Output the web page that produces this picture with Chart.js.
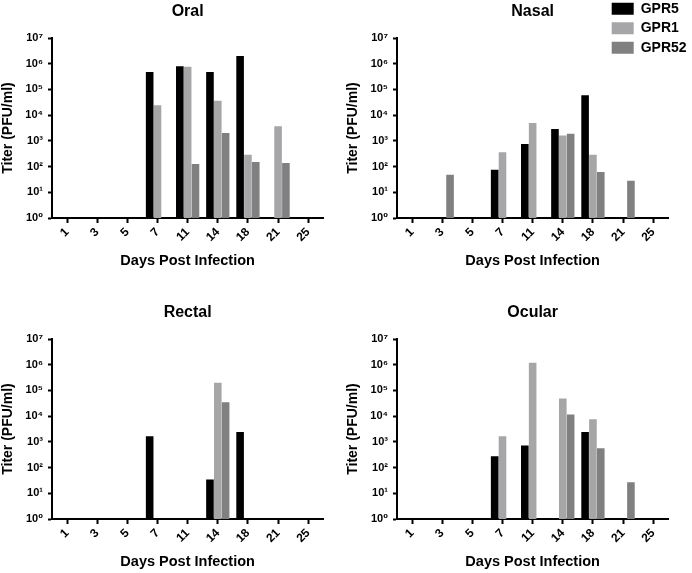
<!DOCTYPE html>
<html><head><meta charset="utf-8">
<script src="https://cdn.jsdelivr.net/npm/chart.js@4.4.0/dist/chart.umd.min.js"></script>
<style>
html,body{margin:0;padding:0;width:692px;height:573px;overflow:hidden;background:#fff}
canvas{position:absolute}
</style></head><body>
<canvas id="c0" width="346" height="301" style="left:0;top:0"></canvas>
<canvas id="c1" width="346" height="301" style="left:345px;top:0"></canvas>
<canvas id="c2" width="346" height="301" style="left:0;top:301px"></canvas>
<canvas id="c3" width="346" height="301" style="left:345px;top:301px"></canvas>
<script>
// ---- data ----
const days = ['1','3','5','7','11','14','18','21','25'];
const seriesNames = ['GPR5','GPR1','GPR52'];
const seriesColors = ['#000000','#a6a6a8','#808080'];
const yTickValues = [1,10,100,1e3,1e4,1e5,1e6,1e7];
const yTickLabels = ['10\u2070','10\u00b9','10\u00b2','10\u00b3','10\u2074','10\u2075','10\u2076','10\u2077'];

const oralGPR5  = [null,null,null,4.8e5,7.9e5,4.8e5,2.0e6,null,null];
const oralGPR1  = [null,null,null,2.4e4,7.6e5,3.6e4,290,3700,null];
const oralGPR52 = [null,null,null,null,126,2000,150,138,null];

const nasalGPR5  = [null,null,null,76,755,2900,5.9e4,null,null];
const nasalGPR1  = [null,null,null,357,4950,1600,290,null,null];
const nasalGPR52 = [null,48,null,null,null,1900,62,28,null];

const rectalGPR5  = [null,null,null,1660,null,34,2400,null,null];
const rectalGPR1  = [null,null,null,null,null,2.0e5,null,null,null];
const rectalGPR52 = [null,null,null,null,null,3.5e4,null,null,null];

const ocularGPR5  = [null,null,null,277,720,null,2400,null,null];
const ocularGPR1  = [null,null,null,1660,1.2e6,4.9e4,7600,null,null];
const ocularGPR52 = [null,null,null,null,null,1.15e4,570,27,null];

// ---- chart ----
Chart.defaults.font.family = '"Liberation Sans", Arial, "DejaVu Sans", sans-serif';
Chart.defaults.color = '#000';
Chart.defaults.animation = false;

const legendPos = {
  id: 'legendPos',
  beforeDraw(chart) {
    const l = chart.legend;
    if (!l || !l.options.display) return;
    l.left = 261.2; l.top = -3.8; l.right = l.left + 90; l.bottom = l.top + 70;
  }
};

function makePanel(id, title, series, showLegend) {
  const datasets = series.map((d, i) => ({
    label: seriesNames[i],
    data: d,
    backgroundColor: seriesColors[i],
    borderWidth: 0,
    categoryPercentage: 0.78,
    barPercentage: 0.97
  }));
  return new Chart(document.getElementById(id), {
    type: 'bar',
    data: { labels: days, datasets },
    plugins: [legendPos],
    options: {
      responsive: false,
      animation: false,
      layout: { padding: { left: 0, top: 0, right: 22.7, bottom: 0 } },
      plugins: {
        title: {
          display: true, text: title, fullSize: false, color: '#000',
          font: { size: 16, weight: 'bold' },
          padding: { top: 1.7, bottom: 17.1 }
        },
        legend: {
          display: showLegend, position: 'chartArea', align: 'start',
          labels: { boxWidth: 22, boxHeight: 12, padding: 5.5, color: '#000',
                    font: { size: 14, weight: 'bold' } }
        },
        tooltip: { enabled: false }
      },
      scales: {
        x: {
          type: 'category', offset: true,
          grid: { display: true, drawOnChartArea: false, drawTicks: true, tickLength: 5,
                  tickWidth: 2, tickColor: '#000', offset: false },
          border: { display: true, color: '#000', width: 2 },
          ticks: { font: { size: 12, weight: 'bold' }, color: '#000', minRotation: 45,
                   maxRotation: 45, autoSkip: false, padding: 2 },
          title: { display: true, text: 'Days Post Infection', color: '#000',
                   font: { size: 14.5, weight: 'bold' }, padding: { top: 0, bottom: 31.8 } },
          afterFit(s) { s.height = 83; }
        },
        y: {
          type: 'logarithmic', min: 1, max: 1e7,
          grid: { display: true, drawOnChartArea: false, drawTicks: true, tickLength: 4,
                  tickWidth: 2, tickColor: '#000' },
          border: { display: true, color: '#000', width: 2 },
          ticks: { font: { size: 11, weight: 'bold' }, color: '#000', padding: 5, autoSkip: false,
                   callback: (v, i) => yTickLabels[i] },
          afterBuildTicks(s) { s.ticks = yTickValues.map(v => ({ value: v })); },
          title: { display: true, text: 'Titer (PFU/ml)', color: '#000',
                   font: { size: 14, weight: 'bold' }, padding: 0 },
          afterFit(s) { s.width = 52; }
        }
      }
    }
  });
}

makePanel('c0', 'Oral',   [oralGPR5, oralGPR1, oralGPR52], false);
makePanel('c1', 'Nasal',  [nasalGPR5, nasalGPR1, nasalGPR52], true);
makePanel('c2', 'Rectal', [rectalGPR5, rectalGPR1, rectalGPR52], false);
makePanel('c3', 'Ocular', [ocularGPR5, ocularGPR1, ocularGPR52], false);
</script>
</body></html>
